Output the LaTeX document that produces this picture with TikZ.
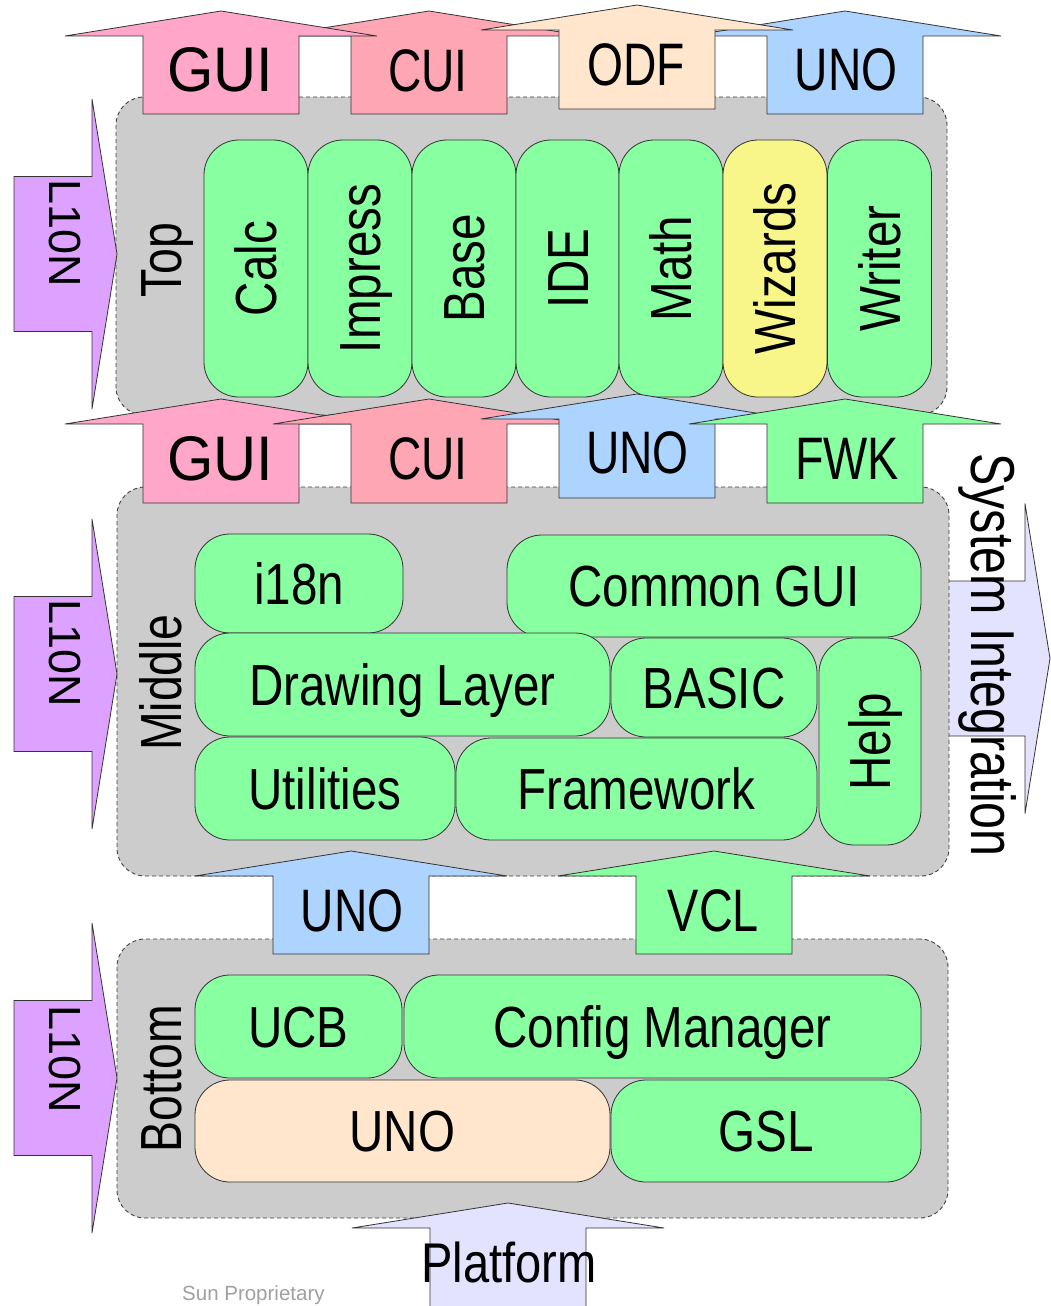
\documentclass[tikz,border=0pt]{standalone}
\usepackage{fontspec}
\setmainfont{Liberation Sans}
\usepackage{graphicx}
\definecolor{laygray}{HTML}{CCCCCC}
\definecolor{compgreen}{HTML}{88FFA0}
\definecolor{wizyellow}{HTML}{F8F688}
\definecolor{beige}{HTML}{FFE6CC}
\definecolor{pinkgui}{HTML}{FFA6C9}
\definecolor{pinkcui}{HTML}{FFA6B5}
\definecolor{unoblue}{HTML}{ADD3FF}
\definecolor{lionpurple}{HTML}{DDA2FF}
\definecolor{lavender}{HTML}{E3E3FF}
\definecolor{suncol}{HTML}{A0A0A0}
\newcommand{\sx}[2]{\scalebox{#1}[1]{#2}}
\newcommand{\UpArr}[4]{\path[arrowline,#1] (#2,#3) -- ({#2+156},{#3+25}) -- ({#2+78},{#3+25}) -- ({#2+78},#4) -- ({#2-78},#4) -- ({#2-78},{#3+25}) -- ({#2-156},{#3+25}) -- cycle;}
\newcommand{\RtArr}[5]{\path[arrowline,#1] (#5,#2) -- (#4,{#2-155}) -- (#4,{#2-77.5}) -- (#3,{#2-77.5}) -- (#3,{#2+77.5}) -- (#4,{#2+77.5}) -- (#4,{#2+155}) -- cycle;}
\tikzset{
  x=1pt, y=-1pt,
  layer/.style={fill=laygray, draw=black!75, dash pattern=on 4pt off 3pt, line width=0.9pt, rounded corners=28pt, inner sep=0pt},
  comp/.style={draw=black!80, line width=0.8pt, fill=compgreen, rounded corners=35pt, inner sep=0pt, font=\fontsize{58}{60}\selectfont, text height=41.5pt, text depth=0pt},
  arrowline/.style={draw=black!80, line width=0.8pt, line join=miter},
  arrlbl/.style={inner sep=0pt, font=\fontsize{60}{62}\selectfont, text height=43pt, text depth=0pt},
  guilbl/.style={inner sep=0pt, font=\fontsize{63}{65}\selectfont, text height=45pt, text depth=0pt},
  laylbl/.style={inner sep=0pt, rotate=90, font=\fontsize{58}{60}\selectfont, text height=41.5pt, text depth=0pt},
  lionlbl/.style={inner sep=0pt, rotate=-90, font=\fontsize{45}{47}\selectfont, text height=32.2pt, text depth=0pt},
}
\begin{document}
\begin{tikzpicture}
\useasboundingbox[fill=white] (0,0) rectangle (1051,1306);

% System integration arrow (behind middle layer)
\RtArr{fill=lavender}{658.5}{930}{1025}{1050}

% layers
\node[layer, minimum width=831pt, minimum height=318pt] (toplayer) at (531.5,256) {};
\node[layer, minimum width=832pt, minimum height=389pt] (midlayer) at (533,681.5) {};
\node[layer, minimum width=831pt, minimum height=279pt] (botlayer) at (532.5,1078.5) {};

% top components
\node[comp, rotate=90, minimum width=257pt, minimum height=104pt] (calc) at (256,268.5) {\sx{0.82}{Calc}};
\node[comp, rotate=90, minimum width=257pt, minimum height=104pt] (impress) at (360,268.5) {\sx{0.82}{Impress}};
\node[comp, rotate=90, minimum width=257pt, minimum height=104pt] (base) at (464,268.5) {\sx{0.82}{Base}};
\node[comp, rotate=90, minimum width=257pt, minimum height=103pt] (ide) at (567.5,268.5) {\sx{0.82}{IDE}};
\node[comp, rotate=90, minimum width=257pt, minimum height=104pt] (math) at (671,268.5) {\sx{0.82}{Math}};
\node[comp, rotate=90, minimum width=257pt, minimum height=104pt, fill=wizyellow] (wizards) at (775,268.5) {\sx{0.82}{Wizards}};
\node[comp, rotate=90, minimum width=257pt, minimum height=104pt] (writer) at (879.5,268.5) {\sx{0.82}{Writer}};

% middle components
\node[comp, minimum width=208pt, minimum height=99pt] (i18n) at (299,583.5) {\sx{0.82}{i18n}};
\node[comp, minimum width=414pt, minimum height=102pt] (commongui) at (714,586) {\sx{0.82}{Common GUI}};
\node[comp, minimum width=415pt, minimum height=103pt] (drawing) at (402.5,684.5) {\sx{0.82}{Drawing Layer}};
\node[comp, minimum width=206pt, minimum height=99pt] (basic) at (714,687.5) {\sx{0.82}{BASIC}};
\node[comp, rotate=90, minimum width=207pt, minimum height=102pt] (help) at (870,741.5) {\sx{0.82}{Help}};
\node[comp, minimum width=260pt, minimum height=103pt] (utilities) at (325,788.5) {\sx{0.82}{Utilities}};
\node[comp, minimum width=361pt, minimum height=102pt] (framework) at (636.5,789) {\sx{0.82}{Framework}};

% bottom components
\node[comp, minimum width=207pt, minimum height=103pt] (ucb) at (298.5,1026.5) {\sx{0.82}{UCB}};
\node[comp, minimum width=517pt, minimum height=103pt] (config) at (662.5,1026.5) {\sx{0.82}{Config Manager}};
\node[comp, minimum width=415pt, minimum height=102pt, fill=beige] (unobot) at (402.5,1131) {\sx{0.82}{UNO}};
\node[comp, minimum width=310pt, minimum height=102pt] (gsl) at (766,1131) {\sx{0.82}{GSL}};

% layer labels
\node[laylbl] (toplbl) at (161,260) {\sx{0.8}{Top}};
\node[laylbl] (midlbl) at (161,682.5) {\sx{0.8}{Middle}};
\node[laylbl] (botlbl) at (161,1078.5) {\sx{0.8}{Bottom}};

% L10N arrows
\RtArr{fill=lionpurple}{254}{14}{92}{117}
\node[lionlbl] (lion1) at (66,233.5) {L10N};
\RtArr{fill=lionpurple}{674}{14}{92}{117}
\node[lionlbl] (lion2) at (66,653.5) {L10N};
\RtArr{fill=lionpurple}{1078}{14}{92}{117}
\node[lionlbl] (lion3) at (66,1059) {L10N};

% top row arrows
\UpArr{fill=pinkcui}{429}{11}{114}
\node[arrlbl] (cuitop) at (428,69.5) {\sx{0.77}{CUI}};
\UpArr{fill=unoblue}{845}{11}{114}
\node[arrlbl] (unotop) at (846,69) {\sx{0.77}{UNO}};
\UpArr{fill=pinkgui}{221}{11}{114}
\node[guilbl] (guitop) at (220,69.5) {\sx{0.946}{GUI}};
\UpArr{fill=beige}{637}{5}{109}
\node[arrlbl] (odftop) at (636,63.5) {\sx{0.77}{ODF}};

% middle row arrows
\UpArr{fill=pinkgui}{221}{399}{503}
\node[guilbl] (guimid) at (220,457.5) {\sx{0.946}{GUI}};
\UpArr{fill=pinkcui}{429}{399}{503}
\node[arrlbl] (cuimid) at (428,458) {\sx{0.77}{CUI}};
\UpArr{fill=unoblue}{637}{394}{498}
\node[arrlbl] (unomid) at (637.5,451.5) {\sx{0.77}{UNO}};
\UpArr{fill=compgreen}{845}{399}{503}
\node[arrlbl] (fwk) at (847,458) {\sx{0.78}{FWK}};

% lower row arrows
\UpArr{fill=unoblue}{351}{851}{954}
\node[arrlbl] (unolow) at (352,909.5) {\sx{0.77}{UNO}};
\UpArr{fill=compgreen}{714}{851}{954}
\node[arrlbl] (vcl) at (713.5,909.5) {\sx{0.78}{VCL}};

% platform
\UpArr{fill=lavender}{508}{1203}{1330}
\node[inner sep=0pt, font=\fontsize{56}{58}\selectfont, text height=40pt, text depth=0pt] (platform) at (509,1262) {\sx{0.84}{Platform}};

% system integration label
\node[inner sep=0pt, rotate=-90, font=\fontsize{62}{64}\selectfont, text height=44.4pt, text depth=0pt] (sysint) at (994,655) {\sx{0.78}{System Integration}};

\node[anchor=base west, inner sep=0pt, font=\fontsize{20.5}{24}\selectfont, text=suncol] (sun) at (182,1300.5) {Sun Proprietary};
\end{tikzpicture}
\end{document}
